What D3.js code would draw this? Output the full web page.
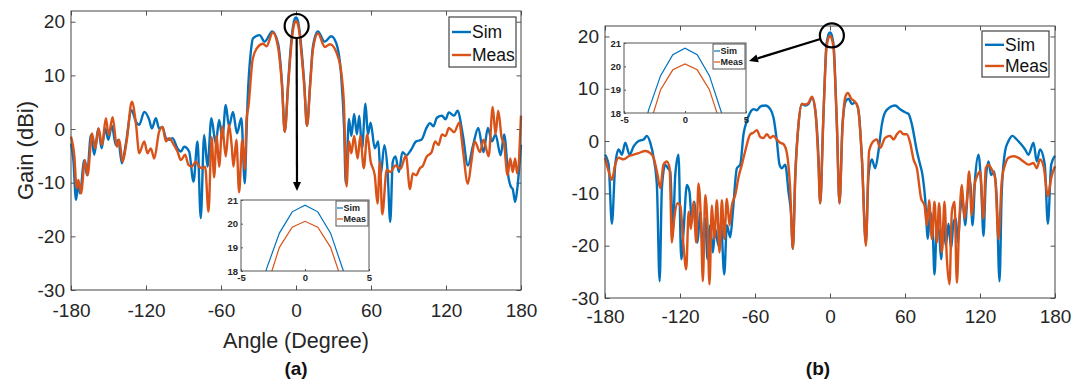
<!DOCTYPE html>
<html>
<head>
<meta charset="utf-8">
<script src="https://cdn.jsdelivr.net/npm/d3@7"></script>
<style>
  body { margin: 0; background: #fff; }
  text { font-family: "Liberation Sans", Arial, sans-serif; }
</style>
</head>
<body>
<svg id="chart" width="1083" height="382"></svg>
<script>
// ---- data ----
const xTicks = [-180, -120, -60, 0, 60, 120, 180];
const yTicks = [-30, -20, -10, 0, 10, 20];
const seriesNames = ['Sim', 'Meas'];
const panelLabels = ['(a)', '(b)'];

const insetXTicks = [-5, 0, 5];
const insetYTicks = [18, 19, 20, 21];
const insetAngles = [-4, -3, -2, -1, 0, 1, 2, 3, 4];
const insetSim = [15.8, 18.1, 19.6, 20.5, 20.78, 20.5, 19.6, 18.0, 15.8];
const insetMeas = [15.0, 17.3, 19.0, 19.85, 20.1, 19.85, 19.0, 17.4, 15.0];

// panel (a): [angle, gain]
const simA = [[-180,-2.7],[-178.1,-5.8],[-176,-13.2],[-174.1,-10.1],[-172.8,-12],[-169.4,-5.8],[-167.2,-8.6],[-164,-1.1],[-161.4,-4.8],[-158.2,0.1],[-155.5,-3.6],[-152.6,0.1],[-150.2,-2],[-147.3,0.6],[-144.1,-3],[-142.2,-2],[-139.3,-6.4],[-136.1,-2.7],[-131.6,3.5],[-128.1,1.4],[-125.4,0.8],[-121.4,3.2],[-117.4,1.7],[-115.3,0.1],[-112.1,2],[-109.5,0.1],[-106.8,0.4],[-104.1,-1.7],[-101.5,-2],[-98.8,-1.7],[-94.8,-3.6],[-92.1,-4.2],[-89.5,-3.3],[-85.5,-4.2],[-82,-9.8],[-78.8,-2.3],[-76.2,-16.6],[-73.5,-1.1],[-70.8,-7],[-67.7,2],[-64.2,-2.7],[-61.5,1.7],[-58.9,-1.7],[-56.2,4.5],[-53.6,0.5],[-50.4,3.2],[-47.2,-0.8],[-43.7,2],[-41,-10.1],[-39.5,0],[-38.7,5.4],[-36,14.7],[-34.4,16.9],[-29.1,17.5],[-25.1,16.3],[-19,18.2],[-14.4,16],[-11.2,8.5],[-9,-0.5],[-6.3,8.5],[-4,15.8],[-3,18.1],[-2,19.6],[-1,20.5],[0,20.78],[1,20.5],[2,19.6],[3,18],[4,15.8],[6.6,8.5],[8.8,0.6],[11.3,8.5],[13.5,15.3],[17.5,18.2],[22.9,16.3],[28.2,17.3],[32.2,16],[36.2,9.8],[38.5,0],[39.8,-10.1],[42.4,1.9],[44.3,-1.3],[46.5,2.8],[48.7,-1],[50.6,2.5],[52.8,-3.7],[55.6,4.7],[57.5,-1],[59.7,1.2],[63,-3.6],[65.8,-2.3],[67.7,-8.6],[70.7,-3],[73.2,-7.6],[75.4,-17.3],[77.4,-6.1],[79.6,-5.1],[82.3,-8],[85.1,-4.3],[88.4,-4.9],[92,-3.9],[96.1,-2.3],[100.3,-2],[104.4,0.2],[107.2,1.1],[109.9,0.5],[112.7,2.1],[116.8,2.5],[119.6,1.8],[122.3,3.1],[126.5,2.5],[129.2,3.4],[133.4,-1],[137.5,-6.8],[141.7,-3],[145.8,0.2],[150,-4.3],[153.5,0.2],[156.8,-2.3],[159.6,-1],[163.7,-4.9],[166.5,-1],[170.1,-9.2],[172,-10.8],[173.4,-11.2],[175.3,-13.6],[177,-11.2],[180,-2.9]];

const measA = [[-180,-1.4],[-177.3,-5.1],[-175.5,-11],[-174.1,-9.5],[-172,-12],[-168.8,-5.8],[-166.7,-8.6],[-163.2,-0.8],[-160.6,-3.6],[-157.9,0.1],[-155.2,-3],[-152.1,2],[-149.9,-1.1],[-146.7,2.2],[-143.3,-3.3],[-141.4,-2],[-138.7,-6.1],[-135.5,-2.3],[-131.3,5.1],[-128.1,1.1],[-125.4,-4.5],[-121.4,-2.3],[-118.8,-4.5],[-116.1,-3.6],[-113.4,-5.5],[-109.5,-0.5],[-106.8,0.4],[-104.1,-2.3],[-101.5,-1.7],[-98.3,-2.7],[-94.8,-4.2],[-92.1,-5.8],[-88.7,-4.8],[-86,-6.7],[-83.4,-7],[-80.2,-6.1],[-77.5,-7],[-74.8,-7.3],[-72.7,-7],[-70,-15.4],[-67.5,-1.5],[-65.5,-9],[-63.5,-1.2],[-61.5,-7],[-59,0.5],[-56.2,-5.1],[-53.6,0.8],[-51.5,-3],[-50,-7],[-47.7,-2],[-45.5,-11.8],[-43,-2],[-41,-7.5],[-39.5,2],[-38.1,4.1],[-34.6,13.1],[-30.5,15.3],[-26.4,15.9],[-23.6,15.4],[-18.6,18],[-14.4,15.3],[-11.2,8],[-9,-0.5],[-6.3,8],[-4,15],[-3,17.3],[-2,19],[-1,19.85],[0,20.1],[1,19.85],[2,19],[3,17.4],[4,15],[6.6,8],[8.8,0.6],[11.3,8],[13.5,14.7],[17.6,17.8],[23.1,15.3],[27.2,15.8],[34.1,13.1],[38.2,5.4],[40.4,-10.7],[42.4,-2.3],[44.3,-4.5],[46.5,-1.3],[49.3,-5.5],[51.5,-1.3],[54.2,-7.3],[57,-1],[59.7,-6],[63,-8.6],[65.2,-13.9],[67.1,-6.1],[69,-15.9],[72.6,-7.6],[75.4,-8],[79.6,-6.8],[83.7,-7.4],[87.9,-4.9],[91.2,-11.2],[93.4,-8.3],[96.1,-8.6],[98.9,-7.4],[101.6,-6.8],[104.4,-5.2],[108.5,-4.3],[111.3,-2.3],[114,-3],[116.8,-1],[119.6,-1.3],[122.3,0.2],[126.5,-0.6],[130.6,1.2],[133.4,-3.6],[137.5,-10.2],[140.3,-6.1],[143,-2.3],[147.2,-4.3],[150,-2],[154.1,-5.1],[157.4,4.1],[159.6,-1],[161.8,3.4],[164.5,-1.6],[166.5,-2.9],[169.2,-8.6],[171.4,-5.5],[173.4,-8],[175.3,-5.5],[177,-8.3],[180,2.5]];

// panel (b): [angle, gain]
const simB = [[-180,-2.6],[-177.1,-4.5],[-174.5,-15.8],[-171.8,-4.5],[-169.1,-1.6],[-166.5,-2.6],[-163.8,-0.3],[-160.3,-2.6],[-157.1,-1],[-153.1,0],[-149.1,0.3],[-146.5,1],[-143.8,-0.3],[-141.1,-3.2],[-138.5,-8.4],[-136.3,-26.8],[-134.5,-9],[-131.8,-4.5],[-129.7,-5.2],[-127.8,-5.8],[-125.7,-17.1],[-123.8,-6.5],[-121.2,-2.6],[-119,-22.6],[-117.2,-17.4],[-114.5,-8.4],[-112.4,-9.7],[-110.5,-15.5],[-108.6,-11.6],[-106,-19.4],[-103.8,-13.5],[-101.7,-20.6],[-99.8,-14.8],[-98,-22.6],[-95.8,-16.1],[-93.7,-21.3],[-91.8,-16.8],[-89.2,-20],[-87.3,-15.5],[-84.6,-25.5],[-82.5,-16.1],[-79.8,-18.4],[-77.7,-13.5],[-74.5,-5.2],[-71.8,-4.5],[-69.2,1.3],[-66.5,3.9],[-63.8,5.5],[-61.2,6.1],[-58.5,5.9],[-55.8,6.6],[-51.8,6.8],[-47.8,6.1],[-45.2,4.5],[-42.5,0],[-40.4,-4.5],[-38.5,-5.2],[-35.8,-4.5],[-33.2,-9.7],[-31.3,-13.5],[-29.7,-20.6],[-27.8,-6.5],[-25.2,3.2],[-22.5,7.1],[-19.8,6.8],[-17.2,7.1],[-14.5,8.3],[-11.8,5.8],[-9.2,-3.2],[-7.85,-11.9],[-5.5,3.2],[-4,13],[-3,18.1],[-2,19.6],[-1,20.5],[0,20.78],[1,20.5],[2,19.6],[3,18],[4,13],[5.5,3.2],[7.6,-11.9],[10,3.2],[12.7,7.7],[14.8,8.1],[17.5,7.1],[20.1,7.4],[22.8,5.8],[25.5,-3.2],[28.7,-19.4],[30.8,-6.5],[33.5,-3.5],[36.1,-5.2],[38.8,-1.9],[41.5,3.2],[44.1,5.5],[48.1,6.5],[52.1,6.8],[56.1,6.1],[60.1,5.5],[62.8,5.2],[65.5,3.2],[69.5,-1.9],[72.1,-4.5],[74,-6.5],[76.1,-11],[78.3,-18.7],[80.1,-13.5],[82,-16.1],[83.6,-25.5],[85.5,-16.1],[87.3,-17.4],[88.9,-22.6],[90.8,-15.5],[92.6,-20],[94.8,-15.8],[96.9,-20.6],[98.8,-15.5],[100.7,-14.8],[102.3,-19.4],[104.1,-13.5],[106,-11],[108.1,-16.1],[110.2,-9.7],[112.1,-7.7],[114,-16.1],[116.1,-7.1],[118.8,-2.6],[120.9,-8.4],[122.8,-18.1],[124.6,-7.7],[126.8,-3.9],[128.9,-6.5],[131.3,-5.8],[133.4,-11],[135.6,-26.8],[137.4,-9.7],[140.1,-1.9],[142.8,0],[146,1],[149.4,0.3],[152.9,-0.6],[156.1,-1.6],[158.8,-2.6],[162.8,-0.3],[165.4,-3.9],[168,-1.6],[171.8,-4.5],[174.3,-15.8],[177,-4.5],[180,-2.8]];

const measB = [[-180,-3.2],[-177.1,-5.8],[-174.5,-7.4],[-171.8,-4.5],[-169.1,-3.2],[-165.1,-3.5],[-161.1,-2.9],[-157.1,-2.6],[-153.1,-2.3],[-147.8,-1.9],[-143.8,-2.3],[-141.1,-3.2],[-137.9,-6.5],[-135.8,-9],[-133.2,-4.5],[-130.5,-3.9],[-128.3,-5.2],[-126.5,-19.4],[-124.6,-14.8],[-122,-11.9],[-119.8,-12.3],[-117.2,-20],[-115,-24.5],[-113.1,-13.5],[-111.3,-16.8],[-109.2,-11.6],[-107,-19.4],[-105.2,-8.1],[-103.3,-14.8],[-101.7,-26.8],[-99.8,-10.3],[-98,-16.1],[-96.4,-27.4],[-94.5,-12.3],[-92.6,-18.7],[-90.5,-11.3],[-88.4,-21.3],[-86.5,-11.3],[-84.6,-18.7],[-82.5,-11],[-80.4,-16.1],[-78.5,-12.3],[-75.8,-10.3],[-73.1,-6.8],[-70.5,-4.5],[-67.8,-1.9],[-63.8,1.3],[-61.2,1.6],[-58.5,2.1],[-55.8,0.8],[-53.2,0.6],[-50.5,1.3],[-47.8,0.6],[-45.2,1],[-42.5,0.3],[-39.8,-0.3],[-37.2,-0.6],[-34.5,-2.3],[-31.9,-9],[-29.7,-20.6],[-27.8,-7.1],[-25.2,3.2],[-22.5,7.1],[-19.8,7],[-17.2,7.3],[-14.5,8.5],[-11.8,6.1],[-9.5,-3],[-7.85,-11.9],[-5.5,3.2],[-4,12.5],[-3,17.3],[-2,19],[-1,19.85],[0,20.1],[1,19.85],[2,19],[3,17.4],[4,12.5],[5.5,3.2],[7.6,-11.9],[10,2.6],[12.2,8.4],[14.3,9.2],[17,8.1],[19.6,7.6],[22.3,6.5],[25.5,-3.2],[28.7,-20],[31.3,-1.9],[34.8,0],[37.5,0.3],[40.1,-1.3],[44.1,0.6],[48.1,1],[50.8,0.3],[53.5,1.3],[56.1,1.9],[58.8,1.3],[61.5,1.3],[64.1,-0.3],[66.8,-3.5],[69.5,-5.2],[72.9,-11],[75.6,-12.3],[77.5,-16.1],[79.3,-11.3],[81.5,-18.7],[83.6,-11.6],[85.5,-19.4],[87.3,-11.9],[89.5,-21.3],[91.6,-11.6],[93.5,-22.6],[95.6,-27.4],[97.5,-13.5],[99.6,-11.6],[101.5,-27.1],[103.3,-16.1],[105.5,-8.4],[107.6,-14.8],[109.4,-11.6],[111.3,-5.8],[113.4,-14.2],[115.6,-8.4],[118,-6.5],[120.1,-5.8],[122.8,-14.8],[124.6,-5.2],[126.8,-4.5],[128.9,-5.2],[132.1,-7.1],[134.8,-18.7],[137.4,-7.7],[140.1,-4.5],[142.8,-3.2],[146.8,-2.9],[150.8,-3.2],[154.8,-3.9],[158.8,-4.5],[162.8,-4.2],[165.4,-5.2],[168,-3.5],[171,-5],[174.3,-10.5],[177,-7],[180,-4.8]];

// ---- styling ----
const colors = ['#0072BD', '#D95319'];
const axisColor = '#262626';
const svg = d3.select('#chart');

function styleAxis(sel, size, weight) {
  sel.select('.domain').remove();
  sel.selectAll('line').attr('stroke', axisColor).attr('stroke-width', 0.8);
  sel.selectAll('text')
    .attr('fill', axisColor)
    .attr('font-size', size)
    .attr('font-weight', weight)
    .attr('font-family', '"Liberation Sans", Arial, sans-serif');
}

function drawInset(g, box) {
  const x = d3.scaleLinear().domain([-5, 5]).range([box.left, box.right]);
  const y = d3.scaleLinear().domain([18, 21]).range([box.bottom, box.top]);
  const id = 'clip' + Math.round(box.left);
  g.append('clipPath').attr('id', id).append('rect')
    .attr('x', box.left).attr('y', box.top)
    .attr('width', box.right - box.left).attr('height', box.bottom - box.top);

  g.append('rect')
    .attr('x', box.left).attr('y', box.top)
    .attr('width', box.right - box.left).attr('height', box.bottom - box.top)
    .attr('fill', '#fff');

  g.append('g').attr('transform', `translate(0,${box.bottom})`)
    .call(d3.axisBottom(x).tickValues(insetXTicks).tickSize(-2).tickPadding(3).tickFormat(d => String(d)))
    .call(s => styleAxis(s, 9.5, 'bold'));
  g.append('g').attr('transform', `translate(${box.left},0)`)
    .call(d3.axisLeft(y).tickValues(insetYTicks).tickSize(-2).tickPadding(3).tickFormat(d => String(d)))
    .call(s => styleAxis(s, 9.5, 'bold'));

  const line = d3.line().x((d, i) => x(insetAngles[i])).y(d => y(d));
  [insetSim, insetMeas].forEach((vals, k) => {
    g.append('path').datum(vals)
      .attr('clip-path', `url(#${id})`)
      .attr('fill', 'none').attr('stroke', colors[k]).attr('stroke-width', 1.2)
      .attr('d', line);
  });

  g.append('rect')
    .attr('x', box.left).attr('y', box.top)
    .attr('width', box.right - box.left).attr('height', box.bottom - box.top)
    .attr('fill', 'none').attr('stroke', '#555').attr('stroke-width', 1);

  // small legend
  const lw = 32, lh = 25;
  const lx = box.right - lw - 1, ly = box.top + 1;
  const lg = g.append('g');
  lg.append('rect').attr('x', lx).attr('y', ly).attr('width', lw).attr('height', lh)
    .attr('fill', '#fff').attr('stroke', '#555').attr('stroke-width', 1);
  seriesNames.forEach((name, k) => {
    const cy = ly + 7 + k * 11;
    lg.append('line').attr('x1', lx + 1).attr('x2', lx + 7).attr('y1', cy).attr('y2', cy)
      .attr('stroke', colors[k]).attr('stroke-width', 1.2);
    lg.append('text').attr('x', lx + 7.5).attr('y', cy).attr('dy', '0.35em')
      .attr('font-size', 9).attr('font-weight', 'bold').attr('fill', '#222').text(name);
  });
  return {x, y};
}

function drawPanel(cfg) {
  const g = svg.append('g');
  const x = d3.scaleLinear().domain([-180, 180]).range([cfg.left, cfg.right]);
  const y = d3.scaleLinear().domain([-30, 22]).range([cfg.bottom, cfg.top]);

  // ticks on all four sides, pointing inward
  g.append('g').attr('transform', `translate(0,${cfg.bottom})`)
    .call(d3.axisBottom(x).tickValues(xTicks).tickSize(-4.5).tickPadding(cfg.xPad).tickFormat(d => String(d)))
    .call(s => styleAxis(s, 19, 'normal'));
  g.append('g').attr('transform', `translate(0,${cfg.top})`)
    .call(d3.axisTop(x).tickValues(xTicks).tickSize(-4.5).tickFormat(''))
    .call(s => styleAxis(s, 19, 'normal'));
  g.append('g').attr('transform', `translate(${cfg.left},0)`)
    .call(d3.axisLeft(y).tickValues(yTicks).tickSize(-4.5).tickPadding(6).tickFormat(d => String(d)))
    .call(s => styleAxis(s, 19, 'normal'));
  g.append('g').attr('transform', `translate(${cfg.right},0)`)
    .call(d3.axisRight(y).tickValues(yTicks).tickSize(-4.5).tickFormat(''))
    .call(s => styleAxis(s, 19, 'normal'));

  const line = d3.line().x(d => x(d[0])).y(d => y(d[1])).curve(d3.curveMonotoneX);
  cfg.series.forEach((data, k) => {
    g.append('path').datum(data)
      .attr('fill', 'none').attr('stroke', colors[k]).attr('stroke-width', 2.4)
      .attr('stroke-linejoin', 'round')
      .attr('d', line);
  });

  g.append('rect')
    .attr('x', cfg.left).attr('y', cfg.top)
    .attr('width', cfg.right - cfg.left).attr('height', cfg.bottom - cfg.top)
    .attr('fill', 'none').attr('stroke', '#444').attr('stroke-width', 1);

  // legend
  const lg = g.append('g');
  lg.append('rect').attr('x', cfg.legend.x).attr('y', cfg.legend.y)
    .attr('width', cfg.legend.w).attr('height', cfg.legend.h)
    .attr('fill', '#fff').attr('stroke', '#444').attr('stroke-width', 1.2);
  seriesNames.forEach((name, k) => {
    const cy = cfg.legend.y + cfg.legend.h * (k === 0 ? 0.3 : 0.76);
    lg.append('line').attr('x1', cfg.legend.x + 3).attr('x2', cfg.legend.x + 22)
      .attr('y1', cy).attr('y2', cy).attr('stroke', colors[k]).attr('stroke-width', 2.4);
    lg.append('text').attr('x', cfg.legend.x + 23).attr('y', cy).attr('dy', '0.35em')
      .attr('font-size', 17.5).attr('fill', '#111').text(name);
  });

  drawInset(g, cfg.inset);

  // circle round the main-beam peak and arrow to the inset
  const cx = x(cfg.circleAt[0]), cy = y(cfg.circleAt[1]), r = 12;
  g.append('circle').attr('cx', cx).attr('cy', cy).attr('r', r)
    .attr('fill', 'none').attr('stroke', '#000').attr('stroke-width', 2.2);
  const tip = cfg.arrowTip;
  const dx = tip[0] - cx, dy = tip[1] - cy, len = Math.hypot(dx, dy);
  const ux = dx / len, uy = dy / len;
  const sx = cx + ux * r, sy = cy + uy * r;
  const hl = 9, hw = 4;
  const bx = tip[0] - ux * hl, by = tip[1] - uy * hl;
  g.append('line').attr('x1', sx).attr('y1', sy).attr('x2', bx).attr('y2', by)
    .attr('stroke', '#000').attr('stroke-width', 2.2);
  g.append('path')
    .attr('d', `M${tip[0]},${tip[1]}L${bx - uy * hw},${by + ux * hw}L${bx + uy * hw},${by - ux * hw}Z`)
    .attr('fill', '#000');

  // panel caption
  g.append('text').attr('x', cfg.captionX).attr('y', 368).attr('dy', '0.35em')
    .attr('text-anchor', 'middle').attr('font-size', 19).attr('font-weight', 'bold')
    .attr('fill', '#111').text(cfg.caption);

  return {g, x, y};
}

drawPanel({
  left: 71, right: 521, top: 11, bottom: 290, xPad: 14,
  series: [simA, measA],
  legend: {x: 449, y: 17, w: 67, h: 50},
  inset: {left: 241, right: 369, top: 200, bottom: 271},
  circleAt: [0.5, 19.2],
  arrowTip: [297, 191],
  caption: panelLabels[0], captionX: 296
});

drawPanel({
  left: 605, right: 1055, top: 26, bottom: 298, xPad: 12,
  series: [simB, measB],
  legend: {x: 982, y: 31, w: 67, h: 46},
  inset: {left: 624, right: 746, top: 43, bottom: 113},
  circleAt: [1.5, 20.2],
  arrowTip: [749, 61],
  caption: panelLabels[1], captionX: 818
});

// axis titles (only panel a carries them)
svg.append('text')
  .attr('transform', `translate(25,${(11 + 290) / 2}) rotate(-90)`)
  .attr('text-anchor', 'middle').attr('dy', '0.35em')
  .attr('font-size', 22).attr('fill', axisColor).text('Gain (dBi)');
svg.append('text')
  .attr('x', (71 + 521) / 2).attr('y', 340).attr('dy', '0.35em')
  .attr('text-anchor', 'middle')
  .attr('font-size', 21.5).attr('fill', axisColor).text('Angle (Degree)');
</script>
</body>
</html>
